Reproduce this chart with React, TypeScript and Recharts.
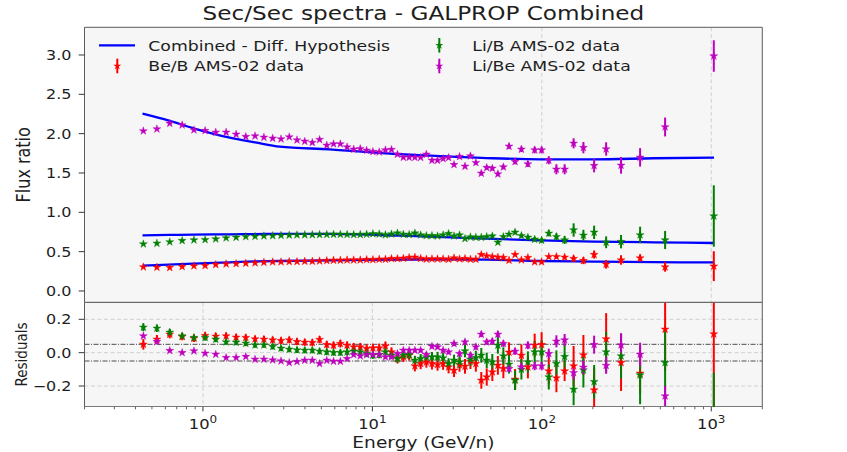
import React from 'react';
import {
  ComposedChart,
  Scatter,
  Line,
  XAxis,
  YAxis,
  ErrorBar,
  ReferenceLine,
  ReferenceArea,
  CartesianGrid,
  Legend
} from 'recharts';

// the reference looks stretched sideways, so text gets the same widening
const SX = 1.2;
const FONT = 'DejaVu Sans';
const INK = '#1e1e1e';
const SPINE = '#5c5c5c';
const GRID = '#d0d0d0';
const FACE = '#f6f6f6';

const BLUE = '#0000ff';
const RED = '#ff0000';
const GREEN = '#008000';
const MAGENTA = '#bf00bf';

// kinetic energy per nucleon of the AMS-02 bins (GeV/n)
const ENERGY = [
  0.445, 0.535, 0.637, 0.754, 0.885, 1.03, 1.19, 1.37, 1.57, 1.79,
  2.03, 2.29, 2.58, 2.89, 3.23, 3.59, 3.99, 4.42, 4.88, 5.38,
  5.9, 6.47, 7.09, 7.76, 8.48, 9.25, 10.07, 10.97, 11.94, 12.96,
  14.06, 15.23, 16.48, 17.82, 19.27, 20.82, 22.47, 24.24, 26.14, 28.16,
  30.33, 32.68, 35.2, 37.9, 40.8, 43.92, 47.29, 51.03, 55.03, 59.28,
  64.02, 69.51, 75.75, 82.74, 90.72, 99.71, 109.9, 121.9, 136.3, 154.0,
  175.9, 203.5, 239.6, 293.4, 380.1, 533.9, 1034.7
];

const BE_B = [
  0.305, 0.301, 0.297, 0.309, 0.318, 0.322, 0.335, 0.343, 0.347, 0.352,
  0.356, 0.364, 0.369, 0.369, 0.373, 0.373, 0.377, 0.377, 0.381, 0.386,
  0.39, 0.39, 0.394, 0.394, 0.394, 0.398, 0.398, 0.403, 0.403, 0.411,
  0.411, 0.415, 0.424, 0.428, 0.413, 0.405, 0.407, 0.407, 0.407, 0.403,
  0.419, 0.407, 0.411, 0.403, 0.403, 0.462, 0.445, 0.436, 0.428, 0.424,
  0.39, 0.462, 0.394, 0.424, 0.369, 0.369, 0.436, 0.436, 0.428, 0.411,
  0.386, 0.462, 0.339, 0.394, 0.419, 0.305, 0.315
];
const BE_B_ERR = [
  0.005, 0.005, 0.005, 0.005, 0.005, 0.005, 0.005, 0.005, 0.005, 0.005,
  0.005, 0.005, 0.005, 0.005, 0.005, 0.005, 0.005, 0.005, 0.005, 0.005,
  0.005, 0.005, 0.006, 0.006, 0.006, 0.006, 0.006, 0.006, 0.007, 0.007,
  0.007, 0.007, 0.008, 0.008, 0.008, 0.008, 0.009, 0.009, 0.009, 0.01,
  0.01, 0.011, 0.011, 0.012, 0.012, 0.013, 0.013, 0.014, 0.015, 0.015,
  0.016, 0.017, 0.018, 0.019, 0.02, 0.021, 0.022, 0.024, 0.025, 0.04,
  0.045, 0.05, 0.055, 0.06, 0.045, 0.06, 0.19
];

const LI_B = [
  0.597, 0.606, 0.623, 0.64, 0.648, 0.652, 0.661, 0.674, 0.682, 0.69,
  0.694, 0.699, 0.702, 0.706, 0.709, 0.712, 0.714, 0.715, 0.717, 0.718,
  0.72, 0.719, 0.718, 0.716, 0.717, 0.721, 0.727, 0.724, 0.714, 0.724,
  0.736, 0.72, 0.716, 0.735, 0.712, 0.703, 0.703, 0.699, 0.712, 0.729,
  0.699, 0.712, 0.665, 0.686, 0.682, 0.682, 0.69, 0.699, 0.619, 0.69,
  0.72, 0.746, 0.703, 0.682, 0.657, 0.644, 0.733, 0.69, 0.648, 0.775,
  0.708, 0.746, 0.619, 0.627, 0.712, 0.648, 0.953
];
const LI_B_ERR = [
  0.007, 0.007, 0.007, 0.007, 0.007, 0.007, 0.007, 0.007, 0.007, 0.007,
  0.007, 0.007, 0.007, 0.007, 0.007, 0.007, 0.007, 0.007, 0.007, 0.007,
  0.008, 0.008, 0.008, 0.008, 0.009, 0.009, 0.009, 0.009, 0.01, 0.01,
  0.01, 0.01, 0.011, 0.011, 0.011, 0.012, 0.012, 0.012, 0.013, 0.013,
  0.014, 0.014, 0.015, 0.015, 0.016, 0.017, 0.018, 0.019, 0.02, 0.021,
  0.022, 0.024, 0.026, 0.028, 0.03, 0.032, 0.04, 0.045, 0.05, 0.085,
  0.07, 0.085, 0.075, 0.085, 0.105, 0.115, 0.39
];

const LI_BE = [
  2.034, 2.059, 2.131, 2.11, 2.047, 2.038, 2.017, 2.017, 1.992, 1.962,
  1.97, 1.953, 1.941, 1.932, 1.958, 1.919, 1.902, 1.886, 1.924, 1.852,
  1.869, 1.869, 1.83, 1.801, 1.809, 1.788, 1.771, 1.767, 1.792, 1.797,
  1.737, 1.699, 1.699, 1.699, 1.697, 1.737, 1.661, 1.661, 1.682, 1.695,
  1.606, 1.708, 1.585, 1.716, 1.631, 1.496, 1.568, 1.559, 1.487, 1.576,
  1.839, 1.644, 1.801, 1.614, 1.792, 1.792, 1.661, 1.547, 1.547, 1.877,
  1.822, 1.593, 1.805, 1.597, 1.699, 2.085, 2.987
];
const LI_BE_ERR = [
  0.012, 0.012, 0.012, 0.012, 0.012, 0.012, 0.012, 0.012, 0.012, 0.012,
  0.012, 0.012, 0.012, 0.012, 0.012, 0.012, 0.012, 0.012, 0.012, 0.012,
  0.014, 0.014, 0.014, 0.015, 0.015, 0.015, 0.016, 0.016, 0.016, 0.017,
  0.017, 0.017, 0.018, 0.018, 0.018, 0.019, 0.019, 0.02, 0.02, 0.02,
  0.022, 0.022, 0.023, 0.024, 0.025, 0.026, 0.027, 0.028, 0.029, 0.03,
  0.032, 0.034, 0.036, 0.038, 0.042, 0.042, 0.05, 0.064, 0.064, 0.064,
  0.072, 0.085, 0.085, 0.106, 0.117, 0.12, 0.2
];

// residuals shown in the lower panel
const RES_BE_B = [
  0.05, 0.08, 0.11, 0.096, 0.086, 0.102, 0.098, 0.1, 0.092, 0.09,
  0.082, 0.08, 0.076, 0.072, 0.076, 0.066, 0.062, 0.06, 0.078, 0.048,
  0.044, 0.054, 0.044, 0.034, 0.034, 0.024, 0.028, 0.028, 0.04, 0.004,
  -0.036, -0.026, -0.016, -0.08, -0.066, -0.056, -0.066, -0.072, -0.066, -0.086,
  -0.106, -0.072, -0.082, -0.052, -0.066, -0.166, -0.146, -0.116, -0.076, -0.095,
  0.002, -0.16, -0.016, -0.086, 0.044, 0.048, -0.11, -0.152, -0.11, -0.08,
  -0.014, -0.224, 0.082, -0.06, -0.124, 0.14, 0.112
];
const RES_BE_B_ERR = [
  0.032, 0.026, 0.024, 0.022, 0.022, 0.021, 0.021, 0.02, 0.02, 0.02,
  0.02, 0.02, 0.02, 0.02, 0.02, 0.021, 0.021, 0.021, 0.022, 0.022,
  0.022, 0.023, 0.023, 0.024, 0.024, 0.025, 0.025, 0.026, 0.027, 0.028,
  0.029, 0.03, 0.031, 0.032, 0.033, 0.034, 0.035, 0.036, 0.037, 0.038,
  0.04, 0.042, 0.044, 0.046, 0.048, 0.05, 0.052, 0.054, 0.056, 0.058,
  0.06, 0.062, 0.065, 0.068, 0.07, 0.075, 0.08, 0.085, 0.06, 0.12,
  0.12, 0.13, 0.155, 0.17, 0.12, 0.25, 0.55
];

const RES_LI_B = [
  0.152, 0.146, 0.122, 0.1, 0.09, 0.09, 0.08, 0.064, 0.062, 0.056,
  0.046, 0.046, 0.036, 0.026, 0.02, 0.016, 0.014, 0.014, 0.008, 0.004,
  0.0, 0.0, 0.004, 0.008, 0.004, -0.006, -0.016, -0.012, 0.004, -0.016,
  -0.036, -0.016, -0.012, -0.046, -0.036, -0.026, -0.026, -0.026, -0.032, -0.066,
  -0.046, -0.056, 0.01, -0.04, -0.03, -0.016, -0.046, -0.056, 0.044, -0.02,
  -0.07, -0.166, -0.1, -0.056, 0.004, 0.004, -0.146, -0.066, -0.024, -0.22,
  -0.104, -0.174, 0.004, -0.02, -0.134, -0.06, -0.56
];
const RES_LI_B_ERR = [
  0.024, 0.022, 0.02, 0.019, 0.018, 0.018, 0.017, 0.017, 0.017, 0.017,
  0.017, 0.017, 0.017, 0.017, 0.017, 0.018, 0.018, 0.018, 0.018, 0.019,
  0.019, 0.019, 0.02, 0.02, 0.02, 0.021, 0.021, 0.022, 0.022, 0.023,
  0.024, 0.025, 0.026, 0.027, 0.028, 0.029, 0.03, 0.031, 0.032, 0.033,
  0.034, 0.036, 0.038, 0.04, 0.042, 0.044, 0.046, 0.048, 0.05, 0.052,
  0.055, 0.058, 0.061, 0.064, 0.067, 0.07, 0.075, 0.08, 0.08, 0.095,
  0.105, 0.1, 0.12, 0.135, 0.175, 0.2, 0.44
];

const RES_LI_BE = [
  0.1, 0.066, 0.012, 0.0, 0.01, -0.004, -0.01, -0.03, -0.03, -0.024,
  -0.04, -0.04, -0.044, -0.05, -0.06, -0.054, -0.046, -0.046, -0.066, -0.046,
  -0.052, -0.052, -0.036, -0.012, -0.02, -0.012, -0.012, -0.012, -0.026, -0.026,
  -0.006, 0.014, 0.014, 0.014, 0.014, -0.012, 0.038, 0.034, 0.014, 0.004,
  0.054, -0.006, 0.064, -0.016, 0.034, 0.11, 0.064, 0.068, 0.11, 0.054,
  -0.096, 0.008, -0.086, 0.044, -0.08, -0.08, -0.006, 0.068, 0.076, -0.121,
  -0.088, 0.048, -0.077, 0.046, -0.01, -0.26, -0.76
];
const RES_LI_BE_ERR = [
  0.008, 0.008, 0.008, 0.008, 0.008, 0.008, 0.008, 0.008, 0.008, 0.008,
  0.008, 0.008, 0.008, 0.008, 0.008, 0.008, 0.008, 0.008, 0.008, 0.008,
  0.009, 0.009, 0.009, 0.009, 0.009, 0.01, 0.01, 0.01, 0.01, 0.01,
  0.011, 0.011, 0.011, 0.012, 0.012, 0.012, 0.013, 0.013, 0.013, 0.014,
  0.014, 0.015, 0.015, 0.016, 0.016, 0.017, 0.017, 0.018, 0.018, 0.019,
  0.02, 0.021, 0.022, 0.023, 0.025, 0.025, 0.03, 0.036, 0.036, 0.04,
  0.04, 0.054, 0.05, 0.07, 0.07, 0.06, 0.12
];

// GALPROP "combined" model curves
const MODEL_E = [0.44, 0.63, 0.88, 1.44, 2.03, 2.84, 5.6, 13.9, 21.9, 47, 98, 202, 458, 1038];
const MODEL_BE_B = [0.322, 0.335, 0.347, 0.364, 0.375, 0.381, 0.39, 0.398, 0.403, 0.398, 0.381, 0.373, 0.366, 0.364];
const MODEL_LI_B = [0.708, 0.712, 0.716, 0.72, 0.723, 0.725, 0.725, 0.705, 0.692, 0.665, 0.644, 0.627, 0.619, 0.61];
const MODEL_LI_BE = [2.254, 2.165, 2.068, 1.949, 1.89, 1.835, 1.801, 1.741, 1.72, 1.69, 1.674, 1.674, 1.687, 1.695];

const FLUX_TICKS = [0, 0.5, 1, 1.5, 2, 2.5, 3];
const RES_TICKS = [0.2, 0, -0.2];
const DECADES = [1, 10, 100, 1000];
const LOG_TICKS = [
  0.2, 0.3, 0.4, 0.5, 0.6, 0.7, 0.8, 0.9,
  1, 2, 3, 4, 5, 6, 7, 8, 9,
  10, 20, 30, 40, 50, 60, 70, 80, 90,
  100, 200, 300, 400, 500, 600, 700, 800, 900,
  1000, 2000
];

const W = 847;
const H = 452;
const PLOT_LEFT = 84.5;
const PLOT_RIGHT = 762.3;
const TOP_Y = 27.3;
const MID_Y = 302.3;
const BOT_Y = 406.7;
const TOP_H = 310;

const X_DOMAIN: [number, number] = [0.2, 2000];
const FLUX_DOMAIN: [number, number] = [-0.144, 3.352];
const RES_DOMAIN: [number, number] = [-0.324, 0.302];

const points = (vals: number[], errs: number[]) =>
  ENERGY.map((e, i) => ({ e, v: vals[i], err: errs[i] }));
const curve = (vals: number[]) => MODEL_E.map((e, i) => ({ e, v: vals[i] }));

function starPoints(cx: number, cy: number, r: number) {
  const pts: string[] = [];
  for (let i = 0; i < 10; i++) {
    const rad = i % 2 === 0 ? r : r * 0.382;
    const a = -Math.PI / 2 + (i * Math.PI) / 5;
    pts.push(`${cx + rad * Math.cos(a)},${cy + rad * Math.sin(a)}`);
  }
  return pts.join(' ');
}

const starShape = (color: string) => (p: any) => {
  if (p.cx == null || p.cy == null) return <g />;
  return <polygon points={starPoints(p.cx, p.cy, 4.2)} fill={color} stroke={color} strokeWidth={0.4} />;
};

const fmtTick = (v: number) => (v < 0 ? '\u2212' : '') + Math.abs(v).toFixed(1);

const YTick = (p: any) => (
  <g>
    <line x1={p.x - 5.8} x2={p.x} y1={p.y} y2={p.y} stroke={INK} strokeWidth={0.9} />
    <text
      transform={`translate(${p.x - 13},${p.y + 4.9}) scale(${SX},1)`}
      textAnchor="end"
      fontSize={13.3}
      fontFamily={FONT}
      fill={INK}
    >
      {fmtTick(p.payload.value)}
    </text>
  </g>
);

const TopXTick = (p: any) => (
  <line x1={p.x} x2={p.x} y1={p.y} y2={p.y + 4.7} stroke={INK} strokeWidth={0.9} />
);

const BottomXTick = (p: any) => {
  const v = p.payload.value;
  const exp = Math.round(Math.log10(v));
  const major = Math.abs(Math.log10(v) - exp) < 1e-6;
  return (
    <g>
      <line x1={p.x} x2={p.x} y1={p.y} y2={p.y + (major ? 4.7 : 2.6)} stroke={INK} strokeWidth={major ? 0.9 : 0.7} />
      {major && (
        <text
          transform={`translate(${p.x},${p.y + 22.6}) scale(${SX},1)`}
          textAnchor="middle"
          fontSize={13.6}
          fontFamily={FONT}
          fill={INK}
        >
          10<tspan dy={-6.6} fontSize={10}>{exp}</tspan>
        </text>
      )}
    </g>
  );
};

const LegendIcon = ({ x, y, color }: { x: number; y: number; color: string }) => (
  <g>
    <line x1={x} x2={x} y1={y - 7.3} y2={y + 7.3} stroke={color} strokeWidth={2} />
    <polygon points={starPoints(x, y, 4.2)} fill={color} />
  </g>
);

const LegendLabel = ({ x, y, children }: { x: number; y: number; children: string }) => (
  <text transform={`translate(${x},${y}) scale(${SX},1)`} fontSize={14.4} fontFamily={FONT} fill={INK}>
    {children}
  </text>
);

const LegendBox = () => (
  <svg width={W} height={80} style={{ display: 'block' }}>
    <line x1={99} x2={135} y1={45.3} y2={45.3} stroke={BLUE} strokeWidth={2.3} />
    <LegendLabel x={148.3} y={50.7}>Combined - Diff. Hypothesis</LegendLabel>
    <LegendIcon x={117.3} y={66} color={RED} />
    <LegendLabel x={148.3} y={71.3}>Be/B AMS-02 data</LegendLabel>
    <LegendIcon x={439.3} y={45.3} color={GREEN} />
    <LegendLabel x={472.3} y={50.7}>Li/B AMS-02 data</LegendLabel>
    <LegendIcon x={439.3} y={66} color={MAGENTA} />
    <LegendLabel x={472.3} y={71.3}>Li/Be AMS-02 data</LegendLabel>
  </svg>
);

const series = [
  { name: 'Be/B AMS-02 data', color: RED, top: points(BE_B, BE_B_ERR), res: points(RES_BE_B, RES_BE_B_ERR) },
  { name: 'Li/B AMS-02 data', color: GREEN, top: points(LI_B, LI_B_ERR), res: points(RES_LI_B, RES_LI_B_ERR) },
  { name: 'Li/Be AMS-02 data', color: MAGENTA, top: points(LI_BE, LI_BE_ERR), res: points(RES_LI_BE, RES_LI_BE_ERR) }
];
const models = [curve(MODEL_BE_B), curve(MODEL_LI_B), curve(MODEL_LI_BE)];

const FluxPanel = () => (
  <ComposedChart
    width={W}
    height={TOP_H}
    margin={{ top: TOP_Y, right: W - PLOT_RIGHT, bottom: TOP_H - MID_Y, left: 0 }}
  >
    <CartesianGrid fill={FACE} horizontal={false} verticalValues={[100, 1000]} stroke={GRID} strokeDasharray="4 2.5" />
    <XAxis
      dataKey="e"
      type="number"
      scale="log"
      domain={X_DOMAIN}
      allowDataOverflow
      ticks={DECADES}
      interval={0}
      height={0}
      tickSize={0}
      tickMargin={0}
      tickLine={false}
      axisLine={false}
      tick={TopXTick}
    />
    <YAxis
      dataKey="v"
      type="number"
      domain={FLUX_DOMAIN}
      allowDataOverflow
      ticks={FLUX_TICKS}
      interval={0}
      width={PLOT_LEFT}
      tickSize={0}
      tickMargin={0}
      tickLine={false}
      axisLine={false}
      tick={YTick}
    />
    {models.map((m, i) => (
      <Line
        key={`model-${i}`}
        data={m}
        dataKey="v"
        type="monotone"
        stroke={BLUE}
        strokeWidth={2.3}
        dot={false}
        activeDot={false}
        isAnimationActive={false}
      />
    ))}
    {series.map((s) => (
      <Scatter key={s.name} name={s.name} data={s.top} shape={starShape(s.color)} isAnimationActive={false}>
        <ErrorBar dataKey="err" direction="y" width={0} stroke={s.color} strokeWidth={2} />
      </Scatter>
    ))}
    <ReferenceArea
      x1={X_DOMAIN[0]}
      x2={X_DOMAIN[1]}
      y1={FLUX_DOMAIN[0]}
      y2={FLUX_DOMAIN[1]}
      fill="none"
      stroke={SPINE}
      strokeWidth={1}
      ifOverflow="visible"
    />
    <Legend
      layout="vertical"
      align="center"
      verticalAlign="middle"
      content={() => <LegendBox />}
      wrapperStyle={{ position: 'absolute', left: 0, top: 0, width: W, height: 80, pointerEvents: 'none' }}
    />
  </ComposedChart>
);

// axes, grid and reference lines of the residual panel
const ResidualAxes = () => (
  <ComposedChart
    width={W}
    height={H}
    margin={{ top: MID_Y, right: W - PLOT_RIGHT, bottom: 0, left: 0 }}
  >
    <CartesianGrid
      fill={FACE}
      verticalValues={DECADES}
      horizontalValues={RES_TICKS}
      stroke={GRID}
      strokeDasharray="4 2.5"
    />
    <XAxis
      dataKey="e"
      type="number"
      scale="log"
      domain={X_DOMAIN}
      allowDataOverflow
      ticks={LOG_TICKS}
      interval={0}
      height={H - BOT_Y}
      tickSize={0}
      tickMargin={0}
      tickLine={false}
      axisLine={false}
      tick={BottomXTick}
    />
    <YAxis
      dataKey="v"
      type="number"
      domain={RES_DOMAIN}
      allowDataOverflow
      ticks={RES_TICKS}
      interval={0}
      width={PLOT_LEFT}
      tickSize={0}
      tickMargin={0}
      tickLine={false}
      axisLine={false}
      tick={YTick}
    />
    <ReferenceLine y={0.05} stroke="#3a3a3a" strokeWidth={0.9} strokeDasharray="5 1.5 1 1.5" />
    <ReferenceLine y={-0.05} stroke="#3a3a3a" strokeWidth={0.9} strokeDasharray="5 1.5 1 1.5" />
  </ComposedChart>
);

// residual points; the wrapper div clips error bars at the bottom spine
const ResidualSeries = () => (
  <ComposedChart
    width={W}
    height={H}
    margin={{ top: MID_Y, right: W - PLOT_RIGHT, bottom: 0, left: 0 }}
  >
    <XAxis
      dataKey="e"
      type="number"
      scale="log"
      domain={X_DOMAIN}
      allowDataOverflow
      height={H - BOT_Y}
      tick={false}
      tickLine={false}
      axisLine={false}
    />
    <YAxis
      dataKey="v"
      type="number"
      domain={RES_DOMAIN}
      allowDataOverflow
      width={PLOT_LEFT}
      tick={false}
      tickLine={false}
      axisLine={false}
    />
    {series.map((s) => (
      <Scatter key={s.name} name={s.name} data={s.res} shape={starShape(s.color)} isAnimationActive={false}>
        <ErrorBar dataKey="err" direction="y" width={0} stroke={s.color} strokeWidth={2} />
      </Scatter>
    ))}
    <ReferenceArea
      x1={X_DOMAIN[0]}
      x2={X_DOMAIN[1]}
      y1={RES_DOMAIN[0]}
      y2={RES_DOMAIN[1]}
      fill="none"
      stroke={SPINE}
      strokeWidth={1}
      ifOverflow="visible"
    />
  </ComposedChart>
);

export default function App() {
  return (
    <div style={{ position: 'absolute', left: 0, top: 0, width: W, height: H, background: '#fff', overflow: 'hidden' }}>
      <div style={{ position: 'absolute', left: 0, top: 0 }}>
        <ResidualAxes />
      </div>
      <div style={{ position: 'absolute', left: 0, top: 0, width: W, height: BOT_Y + 0.6, overflow: 'hidden' }}>
        <ResidualSeries />
      </div>
      <div style={{ position: 'absolute', left: 0, top: 0 }}>
        <FluxPanel />
      </div>
      <svg width={W} height={H} style={{ position: 'absolute', left: 0, top: 0, pointerEvents: 'none' }}>
        <text
          transform={`translate(423.4,20) scale(${SX},1)`}
          textAnchor="middle"
          fontSize={19.3}
          fontFamily={FONT}
          fill={INK}
        >
          Sec/Sec spectra - GALPROP Combined
        </text>
        <text
          transform={`translate(423.4,447.7) scale(${SX},1)`}
          textAnchor="middle"
          fontSize={15.5}
          fontFamily={FONT}
          fill={INK}
        >
          Energy (GeV/n)
        </text>
        <text
          transform={`translate(30,164.8) scale(${SX},1) rotate(-90)`}
          textAnchor="middle"
          fontSize={16}
          fontFamily={FONT}
          fill={INK}
        >
          Flux ratio
        </text>
        <text
          transform={`translate(27,354.5) scale(${SX},1) rotate(-90)`}
          textAnchor="middle"
          fontSize={13.5}
          fontFamily={FONT}
          fill={INK}
        >
          Residuals
        </text>
      </svg>
    </div>
  );
}
